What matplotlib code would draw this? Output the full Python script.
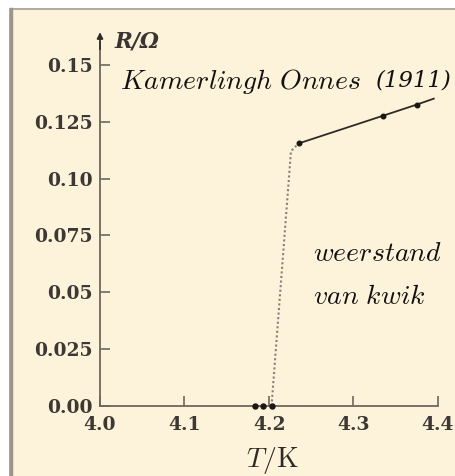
import matplotlib
matplotlib.use("Agg")
import matplotlib.pyplot as plt
from matplotlib.patches import Rectangle
from matplotlib.lines import Line2D

plt.rcParams['mathtext.fontset'] = 'cm'

# Data
T_low = [4.184, 4.193, 4.203]
R_low = [0.0, 0.0, 0.0]
T_high = [4.235, 4.335, 4.375]
R_high = [0.1154, 0.1276, 0.1325]
T_line = [4.235, 4.335, 4.375, 4.395]
R_line = [0.1154, 0.1276, 0.1325, 0.1351]
T_drop = [4.203, 4.226, 4.235]
R_drop = [0.0, 0.112, 0.1154]

x_ticks = [4.0, 4.1, 4.2, 4.3, 4.4]
x_labels = ["4.0", "4.1", "4.2", "4.3", "4.4"]
y_ticks = [0.0, 0.025, 0.05, 0.075, 0.10, 0.125, 0.15]
y_labels = ["0.00", "0.025", "0.05", "0.075", "0.10", "0.125", "0.15"]

W, H = 455, 476
fig = plt.figure(figsize=(W / 100, H / 100), dpi=100)
fig.patch.set_facecolor('white')

bg = '#fdf2da'
frame = Rectangle((10 / W, -0.05), 1.1, 1.05 - 9 / H,
                  transform=fig.transFigure, facecolor=bg,
                  edgecolor='#a39d92', linewidth=1.2, zorder=-5)
fig.patches.append(frame)
fig.add_artist(Line2D([11 / W, 11 / W], [0, 1 - 9 / H], transform=fig.transFigure,
                      color='#9c968a', linewidth=2.5, zorder=-4))

ax = fig.add_axes([100 / W, (H - 406) / H, 338 / W, 364 / H])
ax.set_zorder(2)
ax.set_facecolor('none')
ax.set_xlim(4.0, 4.4)
ax.set_ylim(0, 0.16)

for s in ['top', 'right']:
    ax.spines[s].set_visible(False)
axcol = '#6e675c'
for s in ['left', 'bottom']:
    ax.spines[s].set_color(axcol)
    ax.spines[s].set_linewidth(1.3)

ax.plot(T_drop, R_drop, linestyle=(0, (1, 1.2)), color='#868077', linewidth=1.5, zorder=2)
ax.plot(T_line, R_line, color='#2e2a25', linewidth=1.3, zorder=3)
ax.plot(T_high, R_high, 'o', color='#1a1714', markersize=3.3, zorder=4)
ax.plot(T_low, R_low, 'o', color='#1a1714', markersize=3.6, zorder=4, clip_on=False)

ax.set_xticks(x_ticks)
ax.set_xticklabels(x_labels)
ax.set_yticks(y_ticks)
ax.set_yticklabels(y_labels)
ax.tick_params(axis='both', direction='in', length=7, width=1.2, color=axcol,
               labelcolor='#3c3833')
ax.tick_params(axis='x', pad=7)
ax.tick_params(axis='y', pad=5.5)
for lab in ax.get_xticklabels() + ax.get_yticklabels():
    lab.set_fontfamily('DejaVu Serif')
    lab.set_fontweight('bold')
    lab.set_fontsize(13.5)

# arrow on the y axis
ax.annotate('', xy=(0, 1.027), xycoords='axes fraction', xytext=(0, 0.98),
            arrowprops=dict(arrowstyle='-|>', color='#2e2a25', lw=1.2,
                            mutation_scale=9, shrinkA=0, shrinkB=0))

fig.text(115 / W, 1 - 41 / H, 'R/Ω', fontsize=15.5, family='DejaVu Serif',
         style='italic', weight='bold', color='#3a3530', ha='left', va='center')
fig.text(272 / W, 1 - 461 / H, r'$T/\mathrm{K}$', fontsize=20,
         color='#2e2a25', ha='center', va='center')

fs = 20
fig.text(120 / W, 1 - 82 / H, r'$\mathit{Kamerlingh\ Onnes}$', fontsize=fs,
         color='#111111', ha='left', va='center')
fig.text(376 / W, 1 - 80 / H, '(1911)', fontsize=16.5, family='DejaVu Serif',
         style='italic', color='#111111', ha='left', va='center')
fig.text(313 / W, 1 - 253 / H, r'$\mathit{weerstand}$', fontsize=fs,
         color='#111111', ha='left', va='center')
fig.text(313 / W, 1 - 296 / H, r'$\mathit{van\ kwik}$', fontsize=fs,
         color='#111111', ha='left', va='center')

fig.savefig('out.png', dpi=100, facecolor='white')
